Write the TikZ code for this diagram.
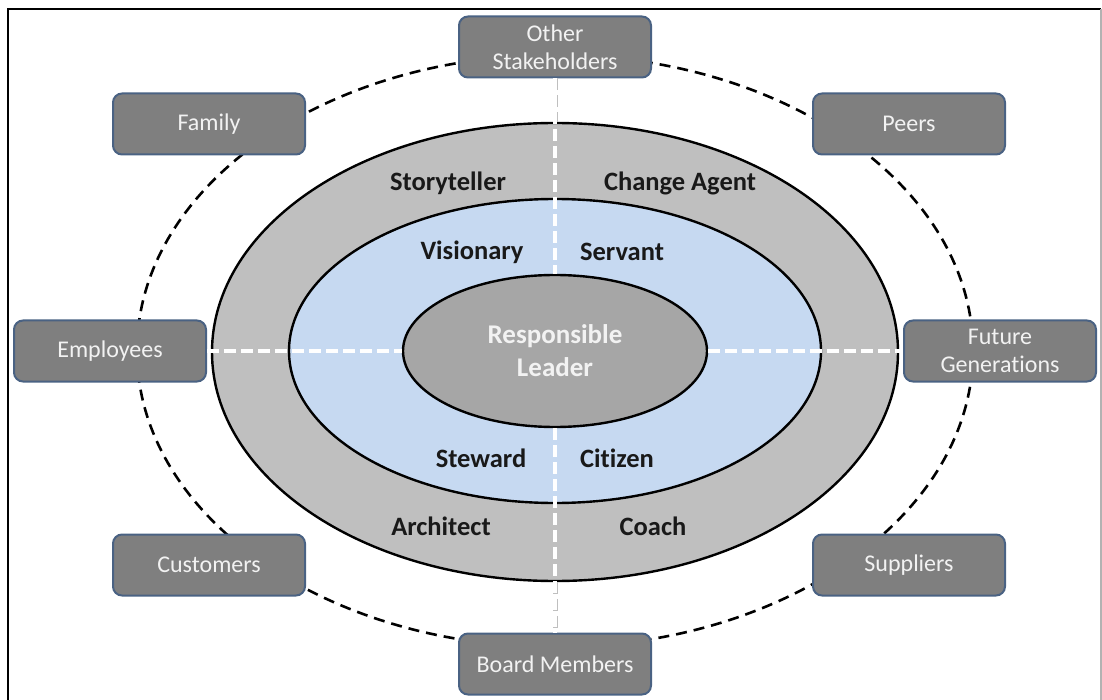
\documentclass[tikz,border=0pt]{standalone}
\usepackage{fontspec}
\setmainfont{Carlito}[Ligatures=NoCommon]
\usepackage{tikz}
\usetikzlibrary{shapes.geometric}
\usepackage{xcolor}
\definecolor{outerring}{HTML}{BFBFBF}
\definecolor{middlering}{HTML}{C6D9F1}
\definecolor{innerring}{HTML}{A6A6A6}
\definecolor{boxfill}{HTML}{7F7F7F}
\definecolor{boxline}{HTML}{4A6283}
\definecolor{softwhite}{HTML}{F2F2F2}
\tikzset{
    stake-box/.style = {draw=boxline, fill=boxfill, line width=2pt, rectangle, rounded corners=9pt,
        minimum width=192pt, minimum height=61pt, inner sep=2pt, align=center,
        text=softwhite, font=\fontsize{24}{28}\selectfont},
    ring/.style = {draw=black, line width=2.4pt, ellipse, inner sep=0pt},
    role-label/.style = {text=black!90, font=\fontsize{26.5}{30}\selectfont\bfseries},
    stake-line/.style = {draw=black, line width=2.6pt, dash pattern=on 11pt off 7pt},
    divider/.style = {draw=white, line width=3.4pt, dash pattern=on 12pt off 5pt},
    divider-edge/.style = {draw=gray!50, line width=5pt, dash pattern=on 12pt off 5pt},
}
\begin{document}
\begin{tikzpicture}[x=1pt,y=-1pt]
\useasboundingbox (0,0) rectangle (1102,700);
% frame
\draw[line width=2.6pt] (8,700) -- (8,9) -- (1101,9);
\draw[gray!60, line width=1.5pt] (1101,9) -- (1101,700);

% ring of stakeholders
\draw[stake-line] (555,351) ellipse [x radius=418, y radius=296];

% leadership rings
\node[ring, fill=outerring, minimum width=686pt, minimum height=458pt] (outer) at (555,352) {};
\node[ring, fill=middlering, minimum width=532pt, minimum height=304pt] (middle) at (555,351) {};
\node[ring, fill=innerring, minimum width=304pt, minimum height=152pt, align=center,
    text=softwhite, font=\fontsize{27}{33}\selectfont\bfseries] (leader) at (555,351) {Responsible\\Leader};

% stakeholders
\node[stake-box] (other) at (555,47) {Other\\Stakeholders};
\node[stake-box] (family) at (209,124) {Family};
\node[stake-box] (peers) at (909,124) {Peers};
\node[stake-box] (employees) at (110,351) {Employees};
\node[stake-box] (future) at (1000,351) {Future\\Generations};
\node[stake-box] (customers) at (209,565) {Customers};
\node[stake-box] (suppliers) at (909,565) {Suppliers};
\node[stake-box] (board) at (555,664) {Board Members};

% quadrant dividers
\draw[divider-edge] (other.south) -- (outer.north);
\draw[divider-edge] (outer.south) -- (board.north);
\draw[divider] (other.south) -- (leader.north);
\draw[divider] (leader.south) -- (board.north);
\draw[divider] (employees.east) -- (leader.west);
\draw[divider] (leader.east) -- (future.west);

% roles
\node[role-label] (storyteller) at (448,183) {Storyteller};
\node[role-label] (change) at (680,183) {Change Agent};
\node[role-label] (visionary) at (472,252) {Visionary};
\node[role-label] (servant) at (622,252) {Servant};
\node[role-label] (steward) at (481,458) {Steward};
\node[role-label] (citizen) at (617,458) {Citizen};
\node[role-label] (architect) at (441,526) {Architect};
\node[role-label] (coach) at (653,526) {Coach};
\end{tikzpicture}
\end{document}
